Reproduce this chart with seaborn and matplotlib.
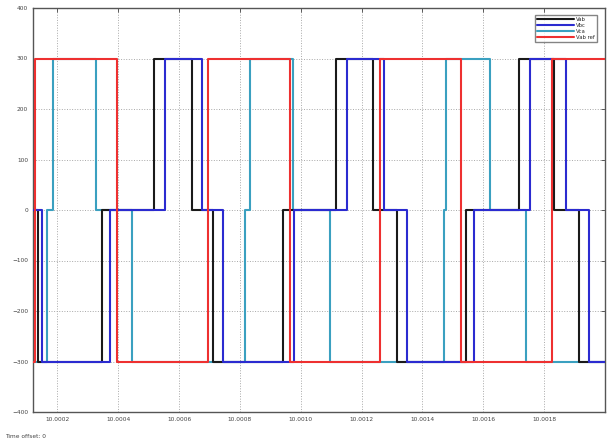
import matplotlib
matplotlib.use("Agg")
import matplotlib.pyplot as plt
import seaborn as sns
import pandas as pd
from matplotlib.ticker import FixedLocator, StrMethodFormatter

# switching instants (s) and output levels (V) of each trace
t_vab = [10.000121, 10.000138, 10.000348, 10.000518, 10.000643, 10.000712, 10.000941,
         10.001115, 10.001236, 10.001315, 10.001544, 10.001718, 10.001833, 10.001915, 10.002]
v_vab = [0, -300, 0, 300, 0, -300, 0, 300, 0, -300, 0, 300, 0, -300, -300]

t_vbc = [10.000121, 10.000151, 10.000374, 10.000554, 10.000675, 10.000744, 10.000977,
         10.001151, 10.001273, 10.001348, 10.001571, 10.001754, 10.001872, 10.001948, 10.002]
v_vbc = [0, -300, 0, 300, 0, -300, 0, 300, 0, -300, 0, 300, 0, -300, -300]

t_vca = [10.000121, 10.000167, 10.000187, 10.000328, 10.000446, 10.000816, 10.000833,
         10.000974, 10.001095, 10.001472, 10.001479, 10.001623, 10.001741, 10.002]
v_vca = [-300, 0, 300, 0, -300, 0, 300, 0, -300, 0, 300, 0, -300, -300]

t_ref = [10.000121, 10.000126, 10.000397, 10.000695, 10.000964, 10.001262, 10.001528,
         10.001826, 10.002]
v_ref = [-300, 300, -300, 300, -300, 300, -300, 300, 300]

labels = ["Vab", "Vbc", "Vca", "Vab ref"]
colors = ["#1a1a1a", "#2b2bd0", "#3aa0c0", "#ee3030"]
x_ticks = [10.0002, 10.0004, 10.0006, 10.0008, 10.0010, 10.0012, 10.0014, 10.0016, 10.0018]
y_ticks = [-400, -300, -200, -100, 0, 100, 200, 300, 400]

sns.set_style("white")
plt.rcParams["font.family"] = ["DejaVu Sans"]

fig = plt.figure(figsize=(6.09, 4.46), dpi=100)
ax = fig.add_axes([33 / 609, 1 - 412 / 446, 572 / 609, 404 / 446])

series = [(t_vab, v_vab), (t_vbc, v_vbc), (t_vca, v_vca), (t_ref, v_ref)]
zorders = [3, 4, 2, 5]
for (t, v), lab, col, z in zip(series, labels, colors, zorders):
    df = pd.DataFrame({"t": t, "v": v})
    sns.lineplot(data=df, x="t", y="v", ax=ax, color=col, label=lab,
                 drawstyle="steps-post", estimator=None, sort=False,
                 linewidth=1.5, zorder=z)

ax.set_xlim(10.00012, 10.002)
ax.set_ylim(-400, 400)
ax.xaxis.set_major_locator(FixedLocator(x_ticks))
ax.xaxis.set_major_formatter(StrMethodFormatter("{x:.4f}"))
ax.yaxis.set_major_locator(FixedLocator(y_ticks))
ax.set_xlabel("")
ax.set_ylabel("")
ax.grid(True, linestyle=":", color="#a8a8a8", linewidth=0.7)
ax.tick_params(direction="in", length=3, width=0.6, labelsize=4.2,
               top=True, right=True, colors="#444444")
for s in ax.spines.values():
    s.set_color("#555555")
    s.set_linewidth(1.0)

handles, labs = ax.get_legend_handles_labels()
ax.legend(handles, labs, loc="upper right", fontsize=3.8, frameon=True,
          fancybox=False, edgecolor="#666666", handlelength=7,
          borderpad=0.35, labelspacing=0.2, handletextpad=0.4,
          bbox_to_anchor=(0.99, 0.99))

fig.text(5 / 609, 1 - 436 / 446, "Time offset: 0", fontsize=4.2, color="#444444",
         va="center", ha="left")

fig.savefig("out.png", dpi=100, facecolor="white")
